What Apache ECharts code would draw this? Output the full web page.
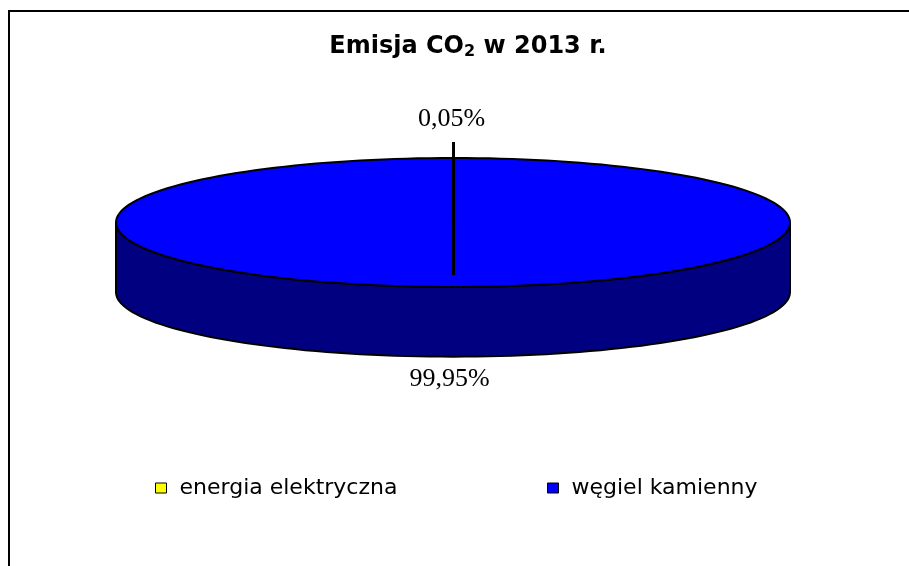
<!DOCTYPE html>
<html>
<head>
<meta charset="utf-8">
<script src="https://cdn.jsdelivr.net/npm/echarts@6/dist/echarts.min.js"></script>
<style>
html, body { margin: 0; padding: 0; background: #fff; }
#main { width: 909px; height: 566px; }
</style>
</head>
<body>
<div id="main"></div>
<script>
// dane wykresu
var categories = ['energia elektryczna', 'węgiel kamienny'];
var shares = [0.05, 99.95];
var shareLabels = ['0,05%', '99,95%'];
var topColors = ['#FFFF00', '#0000FF'];
var sideColors = ['#808000', '#000080'];

var DEPTH = 1.08; // grubość placka (jednostki osi y)

var total = shares.reduce(function(s, v){ return s + v; }, 0);
var startAngles = [];
var acc = 0;
shares.forEach(function(v){
    startAngles.push(acc / total * 360);
    acc += v;
});

/*punkt na elipsie: kąt od godziny 12, zgodnie z ruchem wskazówek*/
function pt(deg, dy){
    var r = deg * Math.PI / 180;
    return [Math.sin(r), Math.cos(r) + (dy || 0)];
}

function arc(api, a, b, dy){
    var pts = [];
    var n = Math.max(2, Math.ceil((b - a) / 2));
    for (var i = 0; i <= n; i++) {
        pts.push(api.coord(pt(a + (b - a) * i / n, dy)));
    }
    return pts;
}

function renderSlice(params, api){
    var i = params.seriesIndex;
    var a = startAngles[i];
    var b = a + shares[i] / total * 360;
    var children = [];

    // ściana boczna - tylko przednia część
    var s = Math.max(a, 90), e = Math.min(b, 270);
    if (e > s) {
        var top = arc(api, s, e, 0);
        var bottom = arc(api, s, e, -DEPTH).reverse();
        children.push({
            type: 'polygon',
            z2: 0,
            shape: { points: top.concat(bottom) },
            style: { fill: sideColors[i], stroke: '#000', lineWidth: 2 }
        });
    }

    // wierzch
    var c = api.coord([0, 0]);
    children.push({
        type: 'polygon',
        z2: 10,
        shape: { points: [c].concat(arc(api, a, b, 0)) },
        style: { fill: topColors[i], stroke: '#000', lineWidth: 2 }
    });

    // etykieta
    var mid = (a + b) / 2;
    var labelFont = '26px "Liberation Serif", "Times New Roman", serif';
    if (Math.cos(mid * Math.PI / 180) > 0) {
        var p = api.coord(pt(mid, 0));
        children.push({
            type: 'line',
            z2: 100,
            shape: { x1: p[0], y1: p[1] - 16, x2: p[0], y2: p[1] + 117 },
            style: { stroke: '#000', lineWidth: 3 }
        });
        children.push({
            type: 'text',
            z2: 100,
            style: { x: p[0] - 2, y: p[1] - 39, text: shareLabels[i], font: labelFont, fill: '#000', align: 'center', verticalAlign: 'middle' }
        });
    } else {
        var q = api.coord(pt(mid, -DEPTH));
        children.push({
            type: 'text',
            z2: 100,
            style: { x: q[0] - 3, y: q[1] + 23, text: shareLabels[i], font: labelFont, fill: '#000', align: 'center', verticalAlign: 'middle' }
        });
    }

    return { type: 'group', children: children };
}

var chart = echarts.init(document.getElementById('main'));

var series = categories.map(function(name, i){
    return {
        name: name,
        type: 'custom',
        coordinateSystem: 'cartesian2d',
        itemStyle: { color: topColors[i] },
        silent: true,
        renderItem: renderSlice,
        data: [[i]]
    };
});

var legendBase = {
    orient: 'horizontal',
    top: 477,
    padding: 0,
    icon: 'rect',
    itemWidth: 11,
    itemHeight: 10,
    itemStyle: { borderColor: '#000', borderWidth: 1 },
    textStyle: { fontFamily: 'DejaVu Sans', fontSize: 22, color: '#000', padding: [0, 0, 0, 8] },
    selectedMode: false
};

var option = {
    animation: false,
    backgroundColor: '#fff',
    title: {
        text: '{a|Emisja CO}{b|2}{a| w 2013 r.}',
        left: 463,
        textAlign: 'center',
        top: 29,
        textStyle: {
            rich: {
                a: { fontFamily: 'DejaVu Sans', fontWeight: 'bold', fontSize: 24, lineHeight: 26, color: '#000' },
                b: { fontFamily: 'DejaVu Sans', fontWeight: 'bold', fontSize: 16, lineHeight: 16, verticalAlign: 'bottom', color: '#000' }
            }
        }
    },
    legend: [
        Object.assign({}, legendBase, { left: 155, data: [categories[0]] }),
        Object.assign({}, legendBase, { left: 547, data: [categories[1]] })
    ],
    grid: { left: 116, right: 119, top: 158, bottom: 201.6 },
    xAxis: { type: 'value', min: -1, max: 1, show: false },
    yAxis: { type: 'value', min: -2.2, max: 1, show: false },
    graphic: [{
        type: 'rect',
        silent: true,
        shape: { x: 9, y: 11, width: 1000, height: 1000 },
        style: { fill: 'none', stroke: '#000', lineWidth: 2 }
    }],
    series: series
};

chart.setOption(option);
</script>
</body>
</html>
